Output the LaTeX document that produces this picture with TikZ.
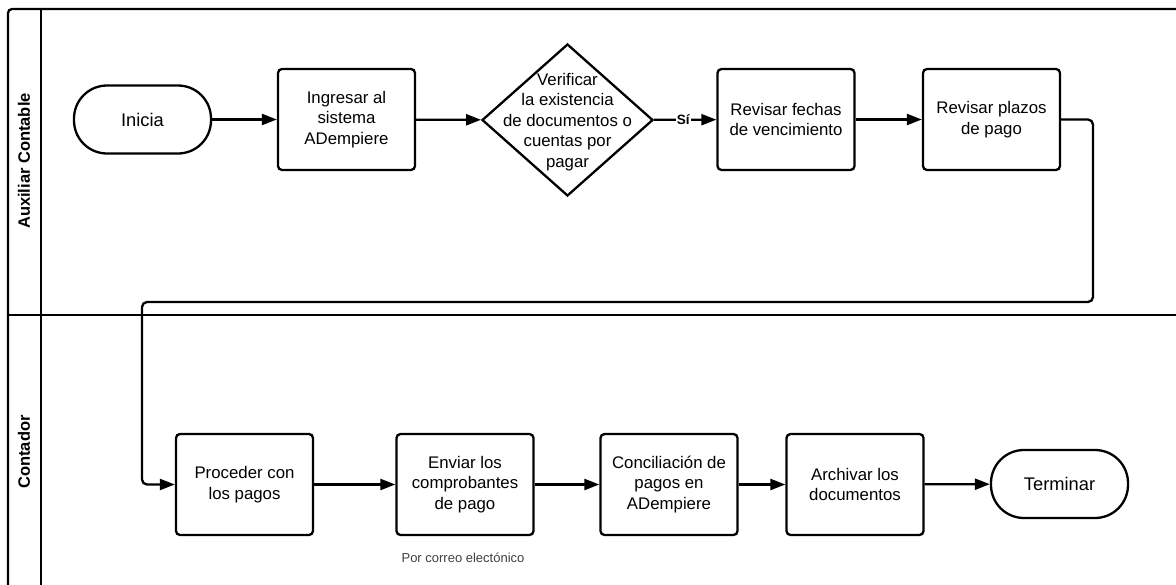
\documentclass[tikz,border=0pt]{standalone}
\usepackage{fontspec}
\setmainfont{Liberation Sans}
\usetikzlibrary{shapes.geometric,arrows.meta}
\begin{document}
\begin{tikzpicture}[x=1pt,y=-1pt,
  every node/.style={font=\fontsize{16.8}{20.5}\selectfont},
  proc/.style={draw,line width=2.3pt,rounded corners=4pt,minimum width=137pt,minimum height=101pt,align=center,inner sep=0pt},
  term/.style={draw,line width=2.3pt,rounded corners=33pt,minimum width=137pt,minimum height=68pt,inner sep=0pt,font=\fontsize{18.3}{22}\selectfont},
  decis/.style={draw,diamond,line width=2.3pt,minimum width=171pt,minimum height=152pt,inner sep=0pt},
  flow/.style={line width=2.3pt,-{Triangle[length=15pt,width=11pt]}},
  lane/.style={line width=2.3pt},
  lanelabel/.style={rotate=90,font=\bfseries\fontsize{16.5}{19}\selectfont},
  note/.style={text=black!75,font=\fontsize{13}{16}\selectfont}]
\useasboundingbox (0,0) rectangle (1176,584);
\begin{scope}
  \clip (0,0) rectangle (1176,584);
  \draw[lane,rounded corners=4pt] (8,600) -- (8,9) -- (1200,9);
  \draw[lane] (41,9) -- (41,600);
  \draw[lane] (8,315) -- (1200,315);
\end{scope}
\node[lanelabel] (laneA) at (24,161) {Auxiliar Contable};
\node[lanelabel] (laneB) at (24,452) {Contador};

% top lane
\node[term] (ini) at (142.5,119.5) {Inicia};
\node[proc] (b1) at (346.5,119.5) {Ingresar al\\sistema\\ADempiere};
\node[decis] (d1) at (567.5,120) {};
\node[align=center] (d1t) at (567.5,122) {Verificar\\la existencia\\de documentos o\\cuentas por\\pagar};
\node[proc] (b3) at (786,119.5) {Revisar fechas\\de vencimiento};
\node[proc] (b4) at (991.5,119.5) {Revisar plazos\\de pago};

% bottom lane
\node[proc] (b5) at (244.5,484.5) {Proceder con\\los pagos};
\node[proc] (b6) at (465,484.5) {Enviar los\\comprobantes\\de pago};
\node[proc] (b7) at (669,484.5) {Conciliación de\\pagos en\\ADempiere};
\node[proc] (b8) at (855,484.5) {Archivar los\\documentos};
\node[term] (fin) at (1059.5,484) {Terminar};
\node[note] (n1) at (463,558) {Por correo electónico};

\coordinate (r1) at (1093,302);
\coordinate (l1) at (142,302);

\draw[flow] (ini) -- (b1);
\draw[flow] (b1) -- (d1);
\draw[flow] (d1) -- node[pos=0.47,fill=white,inner sep=1pt,font=\bfseries\fontsize{13.5}{15}\selectfont] (si) {Sí} (b3);
\draw[flow] (b3) -- (b4);
\draw[flow,rounded corners=5pt] (b4.east) -| (r1) -- (l1) |- (b5.west);
\draw[flow] (b5) -- (b6);
\draw[flow] (b6) -- (b7);
\draw[flow] (b7) -- (b8);
\draw[flow] (b8) -- (fin);
\end{tikzpicture}
\end{document}
